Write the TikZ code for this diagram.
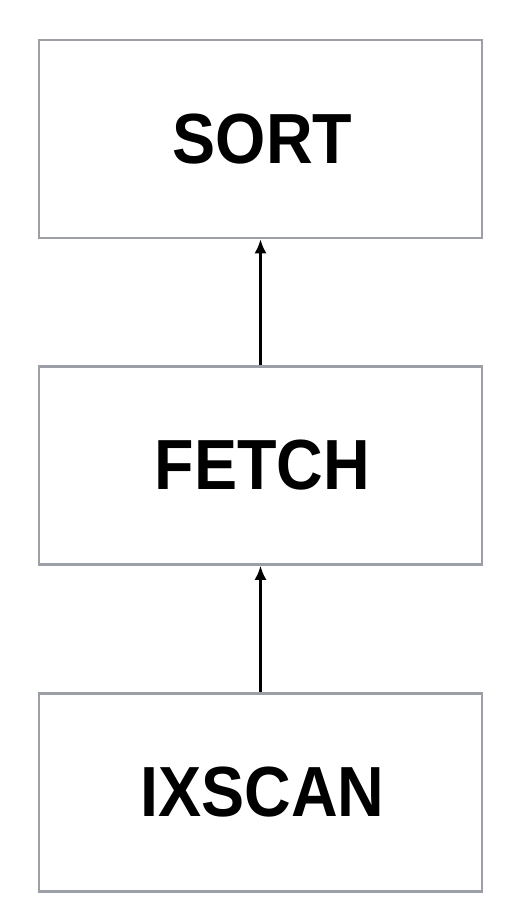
\documentclass[tikz,border=0pt]{standalone}
\usepackage{fontspec}
\setmainfont{Liberation Sans}
\newfontfamily\stagefont{Liberation Sans}[FakeStretch=0.91]
\usetikzlibrary{arrows.meta,positioning}

\definecolor{boxgray}{HTML}{9CA0A6}

\tikzset{
    stage/.style={draw=boxgray, line width=2.5pt, fill=white, minimum width=443pt, minimum height=198pt,
        inner sep=0pt, font=\stagefont\fontsize{71}{80}\selectfont\bfseries},
    flow/.style={-{Latex[length=14pt,width=12pt]}, line width=2.5pt, black}
}

\begin{document}
\begin{tikzpicture}[x=1pt, y=-1pt]
    \useasboundingbox (0,0) rectangle (520,918);

    % Plan stages, bottom to top
    \node[stage] (sort) at (260.5, 139) {\hspace*{4pt}SORT};
    \node[stage] (fetch) at (260.5, 465.5) {\hspace*{4pt}FETCH};
    \node[stage] (ixscan) at (260.5, 792.5) {\hspace*{4pt}IXSCAN};

    % Data flows upward
    \draw[flow] (ixscan) -- (fetch);
    \draw[flow] (fetch) -- (sort);
\end{tikzpicture}
\end{document}
